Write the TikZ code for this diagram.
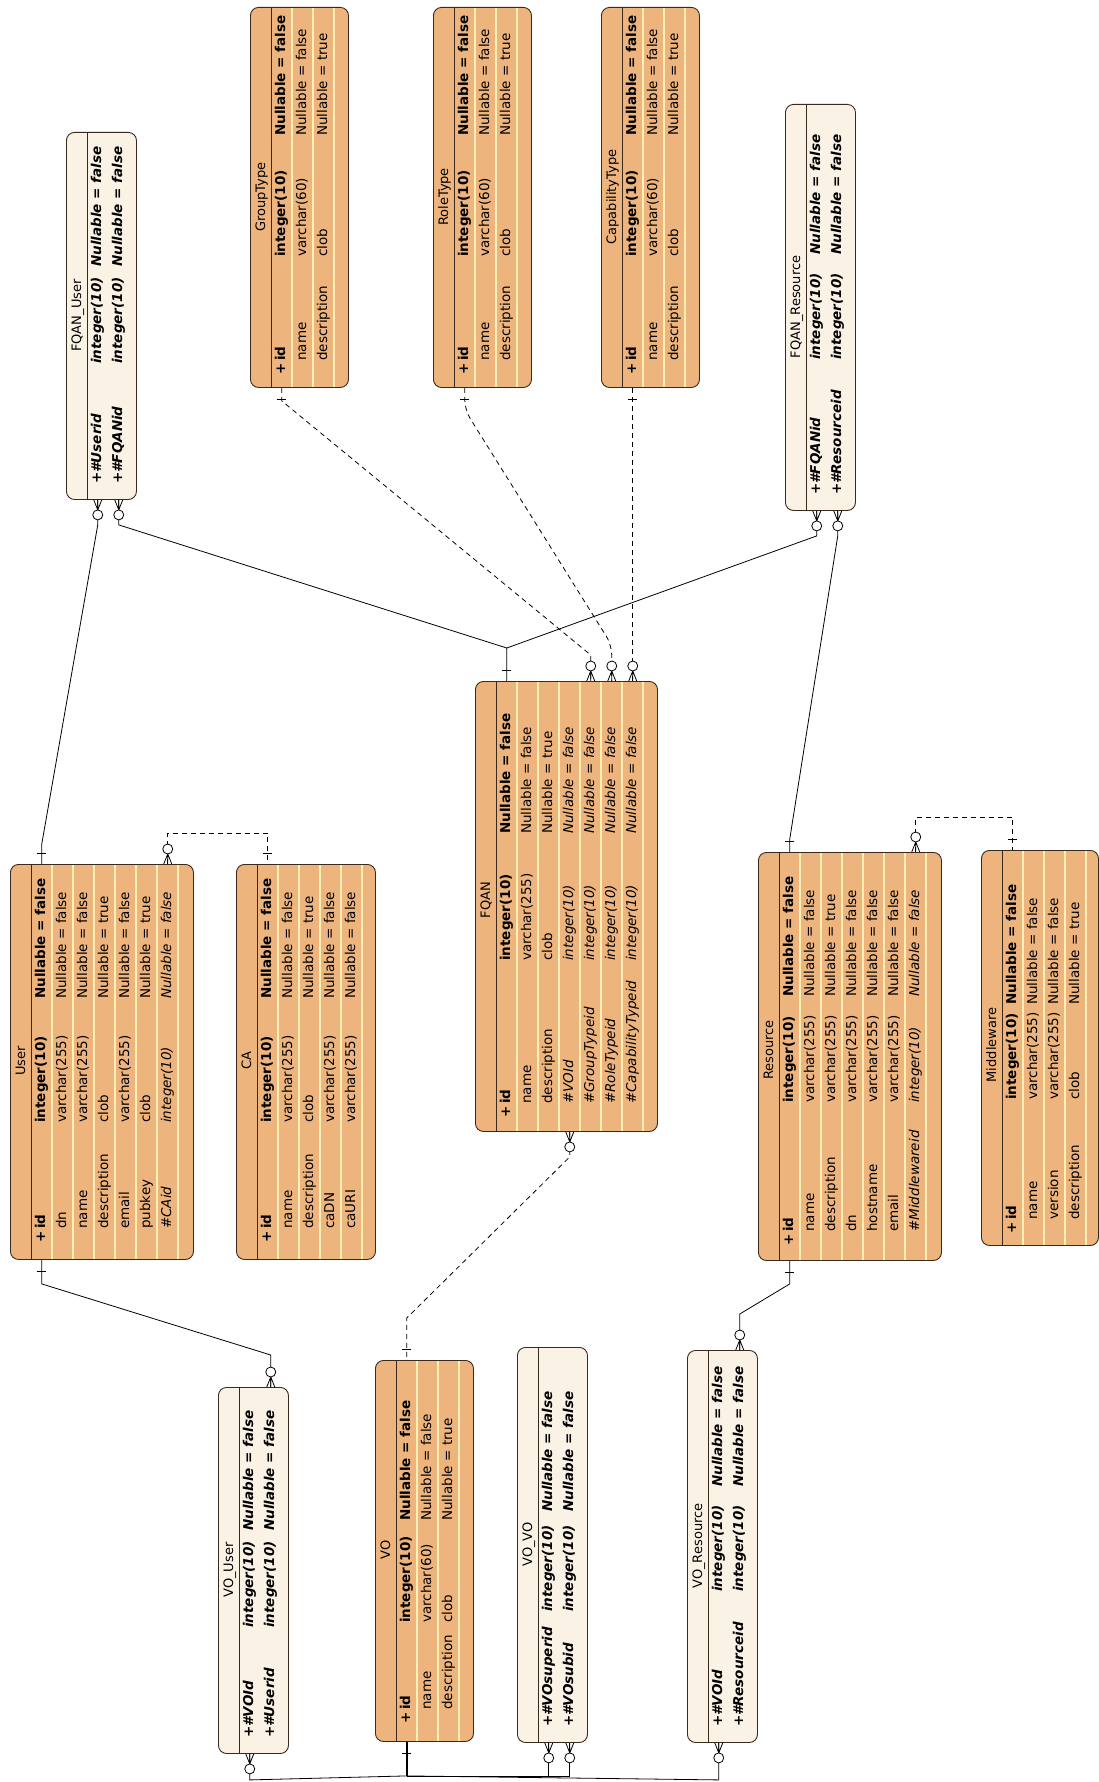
\documentclass[tikz,border=0pt]{standalone}
\usepackage{fontspec}
\setmainfont{DejaVu Sans}
\usetikzlibrary{calc}
\definecolor{tblorange}{HTML}{EDB47E}
\definecolor{tblcream}{HTML}{FBF2E6}
\definecolor{rowline}{HTML}{FFF0B5}
\definecolor{tbledge}{HTML}{3A2A1E}

\begin{document}
\begin{tikzpicture}[x=1pt, y=-1pt,
    tbl/.style={draw=tbledge, line width=0.9pt, rounded corners=8pt, anchor=north west, inner sep=0pt},
    orangetbl/.style={tbl, fill=tblorange},
    linktbl/.style={tbl, fill=tblcream},
    sepline/.style={draw=tbledge, line width=1pt},
    paleline/.style={draw=rowline, line width=1.2pt, shorten <=1pt, shorten >=1pt},
    ttl/.style={rotate=90, anchor=base, inner sep=0pt, font=\fontsize{13pt}{15pt}\selectfont},
    cell/.style={rotate=90, anchor=base west, inner sep=0pt, text height=9pt, text depth=2.5pt,
      font=\fontsize{13.5pt}{16pt}\selectfont},
    rel/.style={draw=black, line width=0.8pt},
    reldash/.style={rel, dash pattern=on 5pt off 4pt},
    many/.pic={\draw[line width=0.8pt] (-4,0) -- (0,10) -- (4,0) (0,0) -- (0,10);
      \draw[line width=0.8pt, fill=white] (0,15) circle (5pt);},
    one/.pic={\draw[line width=0.8pt] (-4.5,11) -- (4.5,11);}]

  \useasboundingbox (0,0) rectangle (1099,1782);

  % User table
  \node[orangetbl, minimum width=183pt, minimum height=395pt] (user) at (10,864) {};
  \draw[sepline] ([xshift=21pt]user.north west) -- ([xshift=21pt]user.south west);
  \foreach \i in {1,...,7}
    \draw[paleline] ([xshift=21pt+\i*21pt]user.north west) -- ([xshift=21pt+\i*21pt]user.south west);
  \node[ttl] (user-t) at (25,1061) {User};
  \foreach \f/\nm/\ty/\nl [count=\i from 0] in {
      \bfseries/\llap{+\kern2.5pt}id/integer(10)/Nullable = false,
      \relax/dn/varchar(255)/Nullable = false,
      \relax/name/varchar(255)/Nullable = false,
      \relax/description/clob/Nullable = true,
      \relax/email/varchar(255)/Nullable = false,
      \relax/pubkey/clob/Nullable = true,
      \itshape/\#CAid/integer(10)/Nullable = false} {
    \node[cell] (user-\i) at (45+21*\i,1229) {\f\nm};
    \node[cell] at (45+21*\i,1123) {\f\ty};
    \node[cell] at (45+21*\i,999) {\f\nl};
  }

  % CA table
  \node[orangetbl, minimum width=139pt, minimum height=395pt] (ca) at (236,864) {};
  \draw[sepline] ([xshift=21pt]ca.north west) -- ([xshift=21pt]ca.south west);
  \foreach \i in {1,...,5}
    \draw[paleline] ([xshift=21pt+\i*21pt]ca.north west) -- ([xshift=21pt+\i*21pt]ca.south west);
  \node[ttl] (ca-t) at (251,1061) {CA};
  \foreach \f/\nm/\ty/\nl [count=\i from 0] in {
      \bfseries/\llap{+\kern2.5pt}id/integer(10)/Nullable = false,
      \relax/name/varchar(255)/Nullable = false,
      \relax/description/clob/Nullable = true,
      \relax/caDN/varchar(255)/Nullable = false,
      \relax/caURI/varchar(255)/Nullable = false} {
    \node[cell] (ca-\i) at (271+21*\i,1229) {\f\nm};
    \node[cell] at (271+21*\i,1123) {\f\ty};
    \node[cell] at (271+21*\i,999) {\f\nl};
  }

  % FQAN table
  \node[orangetbl, minimum width=182pt, minimum height=450pt] (fqan) at (475,681) {};
  \draw[sepline] ([xshift=21pt]fqan.north west) -- ([xshift=21pt]fqan.south west);
  \foreach \i in {1,...,7}
    \draw[paleline] ([xshift=21pt+\i*21pt]fqan.north west) -- ([xshift=21pt+\i*21pt]fqan.south west);
  \node[ttl] (fqan-t) at (490,900) {FQAN};
  \foreach \f/\nm/\ty/\nl [count=\i from 0] in {
      \bfseries/\llap{+\kern2.5pt}id/integer(10)/Nullable = false,
      \relax/name/varchar(255)/Nullable = false,
      \relax/description/clob/Nullable = true,
      \itshape/\#VOId/integer(10)/Nullable = false,
      \itshape/\#GroupTypeid/integer(10)/Nullable = false,
      \itshape/\#RoleTypeid/integer(10)/Nullable = false,
      \itshape/\#CapabilityTypeid/integer(10)/Nullable = false} {
    \node[cell] (fqan-\i) at (510+21*\i,1104) {\f\nm};
    \node[cell] at (510+21*\i,961) {\f\ty};
    \node[cell] at (510+21*\i,834) {\f\nl};
  }

  % Resource table
  \node[orangetbl, minimum width=183pt, minimum height=408pt] (res) at (758,852) {};
  \draw[sepline] ([xshift=21pt]res.north west) -- ([xshift=21pt]res.south west);
  \foreach \i in {1,...,7}
    \draw[paleline] ([xshift=21pt+\i*21pt]res.north west) -- ([xshift=21pt+\i*21pt]res.south west);
  \node[ttl] (res-t) at (773,1050) {Resource};
  \foreach \f/\nm/\ty/\nl [count=\i from 0] in {
      \bfseries/\llap{+\kern2.5pt}id/integer(10)/Nullable = false,
      \relax/name/varchar(255)/Nullable = false,
      \relax/description/varchar(255)/Nullable = true,
      \relax/dn/varchar(255)/Nullable = false,
      \relax/hostname/varchar(255)/Nullable = false,
      \relax/email/varchar(255)/Nullable = false,
      \itshape/\#Middlewareid/integer(10)/Nullable = false} {
    \node[cell] (res-\i) at (793+21*\i,1232) {\f\nm};
    \node[cell] at (793+21*\i,1103) {\f\ty};
    \node[cell] at (793+21*\i,997) {\f\nl};
  }

  % Middleware table
  \node[orangetbl, minimum width=117pt, minimum height=395pt] (mw) at (981,850) {};
  \draw[sepline] ([xshift=21pt]mw.north west) -- ([xshift=21pt]mw.south west);
  \foreach \i in {1,...,4}
    \draw[paleline] ([xshift=21pt+\i*21pt]mw.north west) -- ([xshift=21pt+\i*21pt]mw.south west);
  \node[ttl] (mw-t) at (996,1045) {Middleware};
  \foreach \f/\nm/\ty/\nl [count=\i from 0] in {
      \bfseries/\llap{+\kern2.5pt}id/integer(10)/Nullable = false,
      \relax/name/varchar(255)/Nullable = false,
      \relax/version/varchar(255)/Nullable = false,
      \relax/description/clob/Nullable = true} {
    \node[cell] (mw-\i) at (1016+21*\i,1220) {\f\nm};
    \node[cell] at (1016+21*\i,1100) {\f\ty};
    \node[cell] at (1016+21*\i,1005) {\f\nl};
  }

  % Type tables
  \foreach \tb/\xa/\nmt in {grp/250/GroupType, role/433/RoleType, cap/601/CapabilityType} {
    \node[orangetbl, minimum width=98pt, minimum height=380pt] (\tb) at (\xa,7) {};
    \draw[sepline] ([xshift=21pt]\tb.north west) -- ([xshift=21pt]\tb.south west);
    \foreach \i in {1,...,3}
      \draw[paleline] ([xshift=21pt+\i*21pt]\tb.north west) -- ([xshift=21pt+\i*21pt]\tb.south west);
    \node[ttl] (\tb-t) at (\xa+15,197) {\nmt};
    \foreach \f/\nm/\ty/\nl [count=\i from 0] in {
        \bfseries/\llap{+\kern2.5pt}id/integer(10)/Nullable = false,
        \relax/name/varchar(60)/Nullable = false,
        \relax/description/clob/Nullable = true} {
      \node[cell] (\tb-\i) at (\xa+35+21*\i,361) {\f\nm};
      \node[cell] at (\xa+35+21*\i,257) {\f\ty};
      \node[cell] at (\xa+35+21*\i,136) {\f\nl};
    }
  }

  % VO table
  \node[orangetbl, minimum width=98pt, minimum height=381pt] (vo) at (375,1360) {};
  \draw[sepline] ([xshift=21pt]vo.north west) -- ([xshift=21pt]vo.south west);
  \foreach \i in {1,...,3}
    \draw[paleline] ([xshift=21pt+\i*21pt]vo.north west) -- ([xshift=21pt+\i*21pt]vo.south west);
  \node[ttl] (vo-t) at (390,1550) {VO};
  \foreach \f/\nm/\ty/\nl [count=\i from 0] in {
      \bfseries/\llap{+\kern2.5pt}id/integer(10)/Nullable = false,
      \relax/name/varchar(60)/Nullable = false,
      \relax/description/clob/Nullable = true} {
    \node[cell] (vo-\i) at (410+21*\i,1710) {\f\nm};
    \node[cell] at (410+21*\i,1623) {\f\ty};
    \node[cell] at (410+21*\i,1521) {\f\nl};
  }

  % Link tables
  \foreach \tb/\xa/\ya/\h/\nmt/\ka/\kb/\yn/\yt/\yl in {
      fquser/66/132/367/FQAN\_User/Userid/FQANid/484/364/267,
      fqres/785/104/406/FQAN\_Resource/FQANid/Resourceid/495/360/255,
      vouser/218/1387/366/VO\_User/VOId/Userid/1738/1628/1531,
      vovo/517/1347/395/VO\_VO/VOsuperid/VOsubid/1727/1612/1512,
      vores/687/1350/392/VO\_Resource/VOId/Resourceid/1727/1592/1487} {
    \node[linktbl, minimum width=70pt, minimum height=\h pt] (\tb) at (\xa,\ya) {};
    \draw[sepline] ([xshift=21pt]\tb.north west) -- ([xshift=21pt]\tb.south west);
    \node[ttl] (\tb-t) at (\xa+15,\ya+\h/2) {\nmt};
    \foreach \nm [count=\i from 0] in {\ka,\kb} {
      \node[cell] (\tb-\i) at (\xa+35+21*\i,\yn) {\bfseries\itshape +\#\nm};
      \node[cell] at (\xa+35+21*\i,\yt) {\bfseries\itshape integer(10)};
      \node[cell] at (\xa+35+21*\i,\yl) {\bfseries\itshape Nullable = false};
    }
  }

  % Relations, solid
  \draw[rel] (fquser-0 |- fquser.south) -- ++(0,25) -- ($(user-0 |- user.north)+(0,-20)$) -- (user-0 |- user.north);
  \draw[rel] (fquser-1 |- fquser.south) -- ++(0,25) -- ($(fqan-0 |- fqan.north)+(0,-33)$) coordinate (fqjoin) -- (fqan-0 |- fqan.north);
  \draw[rel] (fqres-0 |- fqres.south) -- ++(0,25) -- (fqjoin);
  \draw[rel] (fqres-1 |- fqres.south) -- ++(0,25) -- ($(res-0 |- res.north)+(0,-13)$) -- (res-0 |- res.north);
  \draw[rel] (user-0 |- user.south) -- ++(0,24) -- ($(vouser-1 |- vouser.north)+(0,-32)$) -- (vouser-1 |- vouser.north);
  \draw[rel] (res-0 |- res.south) -- ++(0,23) -- ($(vores-1 |- vores.north)+(0,-36)$) -- (vores-1 |- vores.north);
  \draw[rel, line width=1.6pt] (vo-0 |- vo.south) -- ++(0,34) coordinate (vojoin);
  \draw[rel] (vouser-0 |- vouser.south) -- ++(0,26) -- (vojoin);
  \draw[rel] (vovo-0 |- vovo.south) -- ++(0,33) -- (vojoin);
  \draw[rel] (vovo-1 |- vovo.south) -- ++(0,33) -- (vojoin);
  \draw[rel] (vores-0 |- vores.south) -- ++(0,37) -- (vojoin);

  % Relations, dashed
  \draw[reldash] (user-6 |- user.north) -- ++(0,-31) -| (ca-0 |- ca.north);
  \draw[reldash] (res-6 |- res.north) -- ++(0,-35) -| (mw-0 |- mw.north);
  \draw[reldash] (grp-0 |- grp.south) -- ++(0,13) -- ($(fqan-4 |- fqan.north)+(0,-26)$) -- (fqan-4 |- fqan.north);
  \draw[reldash, rounded corners=10pt] (role-0 |- role.south) -- ++(0,22) -- ($(fqan-5 |- fqan.north)+(0,-36)$) -- (fqan-5 |- fqan.north);
  \draw[reldash] (cap-0 |- cap.south) -- (fqan-6 |- fqan.north);
  \draw[reldash] (fqan-3 |- fqan.south) -- ++(0,25) -- ($(vo-0 |- vo.north)+(0,-42)$) -- (vo-0 |- vo.north);

  % Ends: many
  \foreach \r/\t in {fquser-0/fquser, fquser-1/fquser, fqres-0/fqres, fqres-1/fqres, fqan-3/fqan,
      vouser-0/vouser, vovo-0/vovo, vovo-1/vovo, vores-0/vores}
    \pic at (\r |- \t.south) {many};
  \foreach \r/\t in {user-6/user, res-6/res, fqan-4/fqan, fqan-5/fqan, fqan-6/fqan, vouser-1/vouser, vores-1/vores}
    \pic[rotate=180] at (\r |- \t.north) {many};
  % Ends: one
  \foreach \r/\t in {grp-0/grp, role-0/role, cap-0/cap, vo-0/vo, user-0/user, res-0/res}
    \pic at (\r |- \t.south) {one};
  \foreach \r/\t in {user-0/user, fqan-0/fqan, res-0/res, ca-0/ca, mw-0/mw, vo-0/vo}
    \pic[rotate=180] at (\r |- \t.north) {one};
\end{tikzpicture}
\end{document}
